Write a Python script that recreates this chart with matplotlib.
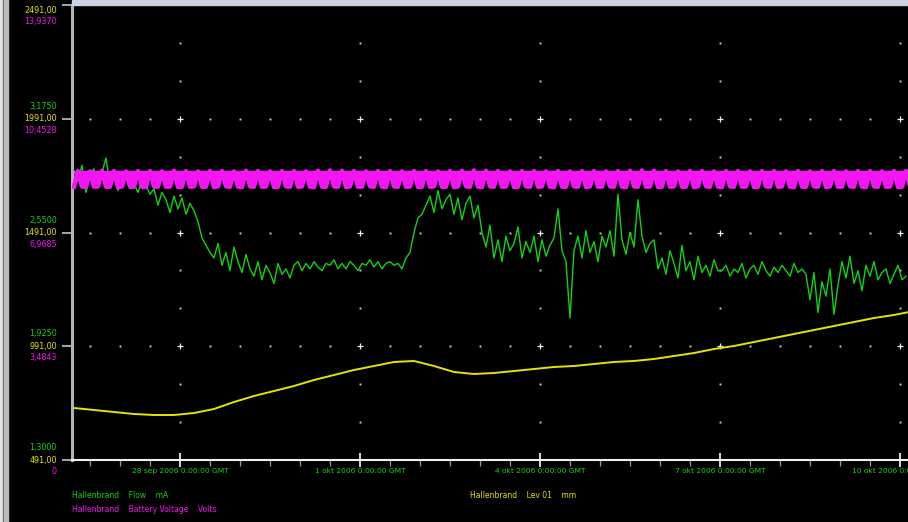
import matplotlib

matplotlib.use("Agg")
import matplotlib.pyplot as plt
import numpy as np
from matplotlib.patches import Rectangle
from matplotlib.ticker import MultipleLocator

# time axis in days relative to 1 okt 2006 00:00 GMT
LOG_START = -4.767
LOG_STEP = 1 / 15       # 1.6 h logging interval (flow, battery)
LEVEL_STEP = 1 / 3      # 8 h
X_RANGE = (-4.8, 9.1333)

FLOW_RANGE = (1.3, 3.8)
VOLT_RANGE = (0.0, 13.937)
LEVEL_RANGE = (491.0, 2491.0)

flow_ma = [
    2.89, 2.83, 2.92, 2.77, 2.87, 2.90, 2.81, 2.88, 2.96,
    2.81, 2.86, 2.78, 2.83, 2.85, 2.79, 2.82, 2.77, 2.84, 2.81,
    2.76, 2.79, 2.70, 2.77, 2.73, 2.66, 2.75, 2.68, 2.74, 2.65, 2.71, 2.67,
    2.61, 2.52, 2.48, 2.44,
    2.41, 2.49, 2.37, 2.44, 2.34, 2.47, 2.39, 2.33, 2.43,
    2.35, 2.31, 2.39, 2.29, 2.37, 2.33, 2.27, 2.38, 2.32, 2.35, 2.30,
    2.37, 2.39, 2.34, 2.38, 2.35, 2.39, 2.36, 2.34, 2.38, 2.37, 2.40, 2.35,
    2.38, 2.35, 2.39, 2.37, 2.34, 2.38, 2.37, 2.40, 2.36, 2.39, 2.35, 2.38,
    2.39, 2.37, 2.38, 2.35, 2.41,
    2.44, 2.55, 2.63, 2.65, 2.70, 2.75, 2.66, 2.78, 2.68, 2.73,
    2.76, 2.65, 2.74, 2.62, 2.71, 2.75, 2.63, 2.70,
    2.55, 2.47, 2.59, 2.41, 2.51, 2.39, 2.53, 2.45, 2.49, 2.58, 2.41,
    2.50, 2.44, 2.53, 2.39, 2.51, 2.42, 2.48, 2.52, 2.68, 2.45, 2.39,
    2.08, 2.45, 2.53, 2.41, 2.56, 2.44, 2.50, 2.39, 2.53, 2.47, 2.56, 2.42, 2.76,
    2.51, 2.43, 2.55, 2.47, 2.73, 2.53, 2.44, 2.49, 2.51,
    2.35, 2.41, 2.32, 2.45, 2.38, 2.30, 2.48, 2.34, 2.39, 2.29, 2.42, 2.33,
    2.37, 2.31, 2.40, 2.34,
    2.34, 2.37, 2.31, 2.35, 2.33, 2.38, 2.30, 2.35, 2.37, 2.32, 2.39,
    2.34, 2.31, 2.36, 2.33, 2.37, 2.34, 2.31, 2.38, 2.33, 2.35,
    2.32, 2.18, 2.33, 2.11, 2.28, 2.20, 2.35, 2.10, 2.26,
    2.39, 2.30, 2.42, 2.27, 2.34, 2.23, 2.37, 2.31, 2.39, 2.29, 2.33,
    2.35, 2.27, 2.32, 2.37, 2.29, 2.31,
]

battery_volts = [
    8.37, 8.85, 8.38, 8.36, 8.84, 8.37, 8.38, 8.86, 8.37, 8.37, 8.85, 8.36, 8.38, 8.84, 8.38,
    8.37, 8.85, 8.37, 8.36, 8.85, 8.38, 8.37, 8.84, 8.37, 8.38, 8.86, 8.36, 8.37, 8.85, 8.37,
    8.38, 8.84, 8.37, 8.37, 8.85, 8.36, 8.38, 8.85, 8.38, 8.37, 8.84, 8.37, 8.36, 8.86, 8.38,
    8.37, 8.85, 8.37, 8.38, 8.84, 8.36, 8.37, 8.85, 8.38, 8.37, 8.85, 8.37, 8.38, 8.84, 8.37,
    8.36, 8.86, 8.37, 8.37, 8.87, 8.38, 8.37, 8.86, 8.36, 8.38, 8.85, 8.37, 8.37, 8.84, 8.38,
    8.37, 8.85, 8.37, 8.36, 8.85, 8.38, 8.37, 8.84, 8.37, 8.38, 8.85, 8.36, 8.37, 8.85, 8.37,
    8.38, 8.84, 8.37, 8.37, 8.85, 8.36, 8.38, 8.86, 8.38, 8.37, 8.87, 8.37, 8.36, 8.86, 8.38,
    8.37, 8.85, 8.37, 8.38, 8.84, 8.36, 8.37, 8.85, 8.38, 8.37, 8.85, 8.37, 8.38, 8.84, 8.37,
    8.36, 8.85, 8.37, 8.37, 8.84, 8.38, 8.37, 8.85, 8.36, 8.38, 8.85, 8.37, 8.37, 8.84, 8.38,
    8.37, 8.85, 8.37, 8.36, 8.86, 8.38, 8.37, 8.87, 8.37, 8.38, 8.86, 8.36, 8.37, 8.85, 8.37,
    8.38, 8.84, 8.37, 8.37, 8.85, 8.36, 8.38, 8.85, 8.38, 8.37, 8.84, 8.37, 8.36, 8.85, 8.38,
    8.37, 8.85, 8.37, 8.38, 8.84, 8.36, 8.37, 8.85, 8.38, 8.37, 8.85, 8.37, 8.38, 8.84, 8.37,
    8.36, 8.85, 8.37, 8.37, 8.84, 8.38, 8.37, 8.85, 8.36, 8.38, 8.85, 8.37, 8.37, 8.84, 8.38,
    8.37, 8.85, 8.37, 8.36, 8.85, 8.38, 8.37, 8.84, 8.37, 8.38, 8.85, 8.36, 8.37, 8.85, 8.37,
]

level_mm = [
    719.6, 710.8, 702.0, 693.2, 688.8, 688.8, 697.6, 715.2, 745.9, 772.3,
    794.3, 816.3, 842.6, 864.6, 886.6, 904.2, 921.8, 926.2, 904.2, 877.8,
    869.0, 873.4, 882.2, 891.0, 899.8, 904.2, 913.0, 921.8, 926.2, 935.0,
    948.1, 961.3, 978.9, 992.1, 1009.7, 1027.3, 1044.8, 1062.4, 1080.0,
    1097.6, 1115.2, 1128.4, 1145.9,
]

date_ticks = [-3, 0, 3, 6, 9]
date_labels = [
    "28 sep 2006 0:00:00 GMT",
    "1 okt 2006 0:00:00 GMT",
    "4 okt 2006 0:00:00 GMT",
    "7 okt 2006 0:00:00 GMT",
    "10 okt 2006 0:00:00 GMT",
]
level_ticks = [491, 991, 1491, 1991, 2491]
level_labels = ["491,00", "991,00", "1491,00", "1991,00", "2491,00"]
flow_labels = ["1,3000", "1,9250", "2,5500", "3,1750", ""]
volt_labels = ["0", "3,4843", "6,9685", "10,4528", "13,9370"]

GREEN = "#14d214"
YELLOW = "#e4e400"
MAGENTA = "#f414f4"
GRID = "#c8c8c8"


def times(start, step, n):
    return start + step * np.arange(n)


fig = plt.figure(figsize=(9.08, 5.22), dpi=100, facecolor="black")
fig.patches.append(Rectangle((0, 0), 3 / 908, 1, transform=fig.transFigure, color="#e6e6e6"))
fig.patches.append(Rectangle((3 / 908, 0), 1 / 908, 1, transform=fig.transFigure, color="#606060"))
fig.patches.append(Rectangle((4 / 908, 0), 4 / 908, 1, transform=fig.transFigure, color="#bcbcbc"))
fig.patches.append(Rectangle((72 / 908, 517 / 522), 836 / 908, 5 / 522,
                             transform=fig.transFigure, color="#c9d3e4"))

ax = fig.add_axes([72 / 908, 62 / 522, 836 / 908, 455 / 522])
ax.set_facecolor("black")
ax.set_xlim(*X_RANGE)
ax.set_ylim(*LEVEL_RANGE)
for side in ("top", "right"):
    ax.spines[side].set_visible(False)
ax.spines["left"].set_color("#b4b4b4")
ax.spines["left"].set_linewidth(2.2)
ax.spines["bottom"].set_color("#f0f0f0")
ax.spines["bottom"].set_linewidth(1.5)

ax.xaxis.set_minor_locator(MultipleLocator(0.5))
ax.set_xticks(date_ticks, date_labels)
ax.tick_params(axis="x", which="major", direction="inout", length=10, width=1.3,
               color="#e8e8e8", labelcolor=GREEN, labelsize=5.4, pad=1)
ax.tick_params(axis="x", which="minor", direction="out", length=4, width=0.9, color="#9a9a9a")
ax.set_yticks(level_ticks)
ax.set_yticklabels([])
ax.yaxis.set_minor_locator(MultipleLocator(500 / 3, offset=491))
ax.tick_params(axis="y", which="major", direction="out", length=7, width=1.3, color="#b4b4b4")
ax.tick_params(axis="y", which="minor", length=0)

# dotted grid: dots along major rows every minor x, along major columns every minor y
minor_x = [v for v in ax.xaxis.get_minorticklocs() if X_RANGE[0] < v < X_RANGE[1]]
minor_y = [v for v in ax.yaxis.get_minorticklocs() if LEVEL_RANGE[0] < v < LEVEL_RANGE[1]]
rows = level_ticks[1:4]
for yv in rows:
    ax.plot(minor_x, [yv] * len(minor_x), ls="none", marker="s", ms=1.4, mew=0, color=GRID)
for xv in date_ticks:
    ax.plot([xv] * len(minor_y), minor_y, ls="none", marker="s", ms=1.4, mew=0, color=GRID)
    ax.plot([xv] * len(rows), rows, ls="none", marker="+", ms=5, mew=0.9, color="#f0f0f0")

ax.plot(times(LOG_START, LEVEL_STEP, len(level_mm)), level_mm, color=YELLOW, lw=1.4)

ax_flow = ax.twinx()
ax_flow.set_ylim(*FLOW_RANGE)
ax_flow.set_axis_off()
ax_flow.plot(times(LOG_START, LOG_STEP, len(flow_ma)), flow_ma, color=GREEN, lw=1.0)

ax_volt = ax.twinx()
ax_volt.set_ylim(*VOLT_RANGE)
ax_volt.set_axis_off()
t_volt = times(LOG_START, LOG_STEP, len(battery_volts))
ax_volt.fill_between(t_volt, battery_volts, max(battery_volts), color=MAGENTA, lw=0)
ax_volt.plot(t_volt, battery_volts, color=MAGENTA, lw=3.2)

# stacked axis labels: flow above, level on, voltage below the tick
label_x = (57 - 72) / 836
for yv, gl, yl, ml in zip(level_ticks, flow_labels, level_labels, volt_labels):
    shift = -5 if yv == LEVEL_RANGE[1] else 0
    for text, color, dy in ((gl, GREEN, 12.5), (yl, YELLOW, 0), (ml, MAGENTA, -11.5)):
        if not text:
            continue
        ax.annotate(text, xy=(label_x, yv), xycoords=("axes fraction", "data"),
                    xytext=(0, (dy + shift) * 0.72), textcoords="offset points",
                    ha="right", va="center", fontsize=5.8, color=color,
                    annotation_clip=False)

legend = [
    (72, 496, "Hallenbrand    Flow    mA", GREEN),
    (72, 509, "Hallenbrand    Battery Voltage    Volts", MAGENTA),
    (470, 496, "Hallenbrand    Lev 01    mm", YELLOW),
]
for x, y, text, color in legend:
    fig.text(x / 908, 1 - y / 522, text, color=color, fontsize=5.5, ha="left", va="center")

fig.savefig("out.png", dpi=100, facecolor=fig.get_facecolor())
